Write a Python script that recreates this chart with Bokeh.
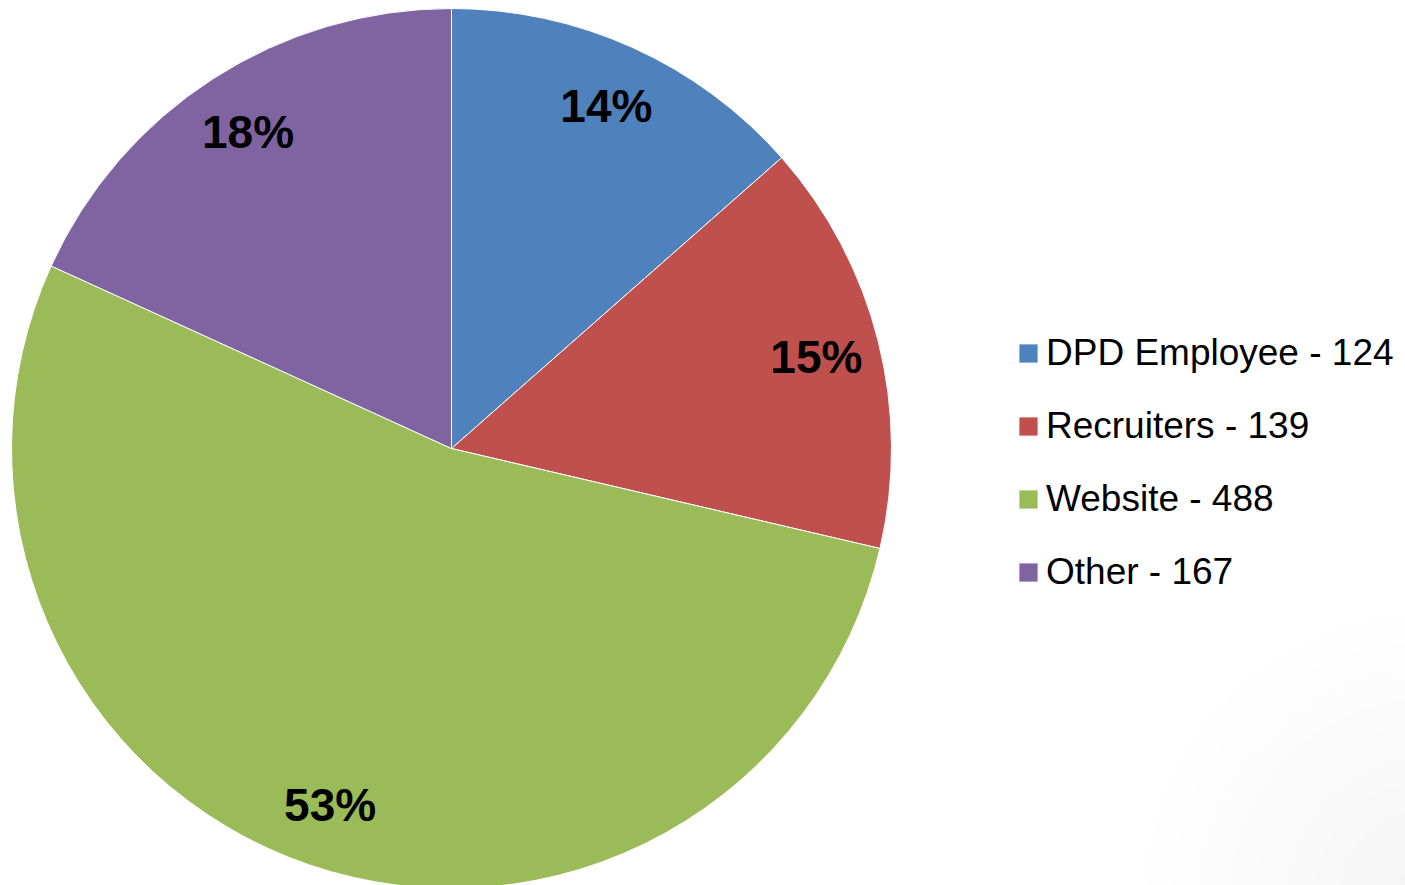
import numpy as np
from bokeh.plotting import figure
from bokeh.models import ColumnDataSource, Range1d, Legend, LegendItem
from bokeh.core.properties import value
from bokeh.embed import file_html
from bokeh.resources import INLINE

categories = ["DPD Employee", "Recruiters", "Website", "Other"]
counts = [124, 139, 488, 167]
colors = ["#4F81BD", "#C0504D", "#9BBB59", "#8064A2"]

W, H = 1405, 885
cx, cy, r = 451, H - 448, 440

vals = np.array(counts, dtype=float)
frac = vals / vals.sum()
cum = np.concatenate([[0], np.cumsum(frac)])
start = np.pi / 2 - 2 * np.pi * cum[:-1]
end = np.pi / 2 - 2 * np.pi * cum[1:]
mid = (start + end) / 2
lr = r * 0.855
pct = [f"{round(f * 100):.0f}%" for f in frac]
labels = [f"{c} - {n}" for c, n in zip(categories, counts)]

src = ColumnDataSource(dict(
    start=start, end=end, color=colors, label=labels,
    lx=cx + lr * np.cos(mid), ly=cy + lr * np.sin(mid), pct=pct,
))

p = figure(width=W, height=H, x_range=Range1d(0, W), y_range=Range1d(0, H),
           output_backend="svg", toolbar_location=None, min_border=0)
p.axis.visible = False
p.grid.visible = False
p.outline_line_color = None
p.background_fill_color = "white"

# very faint shading in the lower-right corner of the slide background
shade_r = np.linspace(280, 30, 10)
p.circle(x=[W + 20] * len(shade_r), y=[-10] * len(shade_r), radius=shade_r,
         fill_color="black", fill_alpha=0.0045, line_color=None)

renderers = []
for i in range(len(counts)):
    rr = p.wedge(x=cx, y=cy, radius=r, start_angle=start[i], end_angle=end[i],
                 direction="clock", fill_color=colors[i], line_color="white",
                 line_width=1)
    renderers.append(rr)

p.text(x="lx", y="ly", text="pct", source=src, text_align="center",
       text_baseline="middle", text_font=value("Liberation Sans"),
       text_font_size="46px", text_font_style="bold", text_color="black")

legend = Legend(items=[LegendItem(label=labels[i], renderers=[renderers[i]])
                       for i in range(len(counts))],
                location=(1016, 292))
legend.label_text_font = "Liberation Sans"
legend.label_text_font_size = "37px"
legend.label_text_color = "black"
legend.glyph_width = 24
legend.glyph_height = 24
legend.label_standoff = 6
legend.spacing = 31
legend.padding = 0
legend.margin = 0
legend.border_line_color = None
legend.background_fill_alpha = 0
p.add_layout(legend)

open("out.html", "w").write(file_html(p, INLINE))
